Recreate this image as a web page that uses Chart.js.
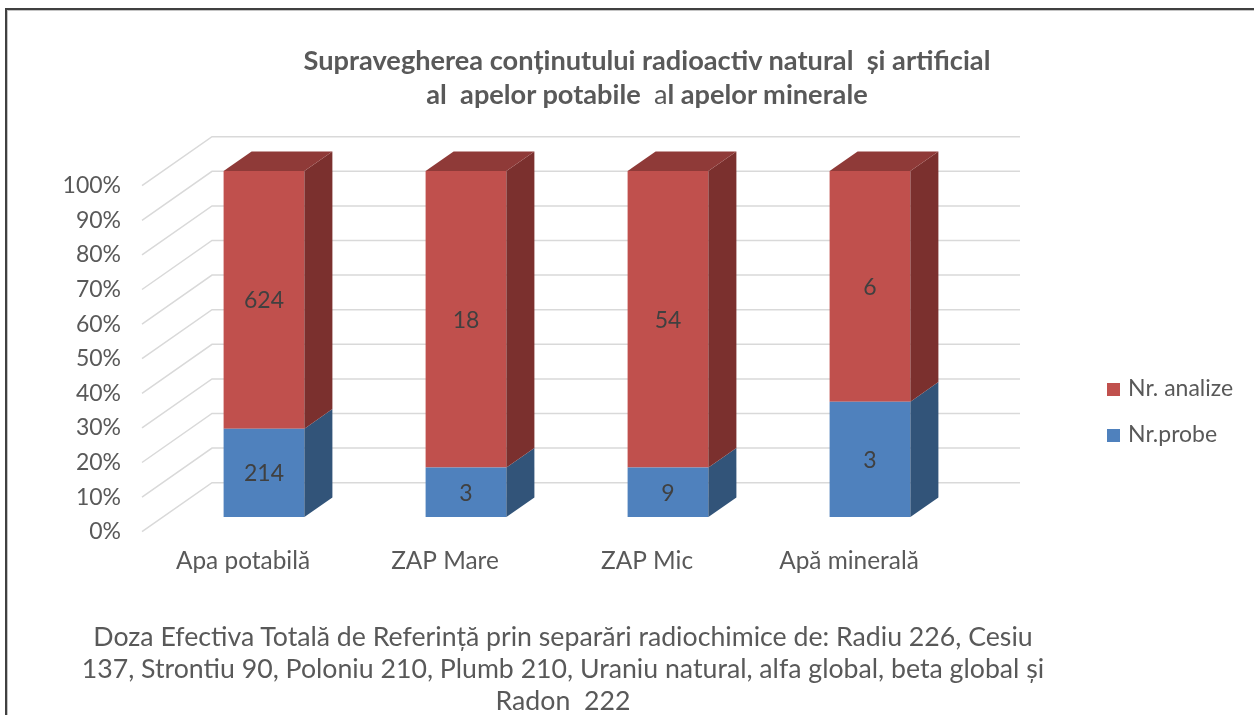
<!DOCTYPE html>
<html>
<head>
<meta charset="utf-8">
<script src="https://cdn.jsdelivr.net/npm/chart.js@4.4.1/dist/chart.umd.min.js"></script>
<style>
	html, body { margin: 0; padding: 0; background: #fff; }
	#wrap { position: relative; width: 1254px; height: 715px; overflow: hidden; font-family: Lato, "Open Sans", sans-serif; }
	#frame { position: absolute; left: 5px; top: 8px; width: 1400px; height: 900px; border-left: 2px solid #404040; border-top: 2px solid #404040; box-shadow: inset 1px 1px 0 #c4c4c4; }
	#chart { position: absolute; left: 0; top: 0; }
	#title { position: absolute; left: 0; top: 43px; width: 1294px; text-align: center; font-weight: bold; font-size: 27.2px; line-height: 34px; color: #595959; white-space: pre; }
	#title .thin { font-weight: normal; }
	#note { position: absolute; left: 0; top: 620px; width: 1126px; text-align: center; font-size: 26.7px; line-height: 32px; color: #595959; white-space: nowrap; }
	#legend { position: absolute; left: 1107px; top: 372px; font-size: 23px; color: #595959; }
	#legend div { height: 46px; line-height: 30px; white-space: nowrap; }
	#legend span { display: inline-block; width: 13px; height: 13px; margin-right: 8px; vertical-align: 0px; }
</style>
</head>
<body>
<div id="wrap">
	<canvas id="chart" width="1254" height="715"></canvas>
	<div id="frame"></div>
	<div id="title">Supravegherea conținutului radioactiv natural  și artificial
al  apelor potabile  <span class="thin">a</span>l apelor minerale</div>
	<div id="legend"></div>
	<div id="note">Doza Efectiva Totală de Referință prin separări radiochimice de: Radiu 226, Cesiu<br>137, Strontiu 90, Poloniu 210, Plumb 210, Uraniu natural, alfa global, beta global și<br>Radon&nbsp; 222</div>
</div>
<script>
// data
const categories = ['Apa potabilă', 'ZAP Mare', 'ZAP Mic', 'Apă minerală'];
const nrProbe = [214, 3, 9, 3];
const nrAnalize = [624, 18, 54, 6];
const yTicks = [0, 10, 20, 30, 40, 50, 60, 70, 80, 90, 100];

const seriesNames = ['Nr.probe', 'Nr. analize'];
const frontColors = ['#4F81BD', '#C0504D'];
const sideColors = ['#325479', '#7B302E'];
const topColors = ['#3C6596', '#8F3A38'];

// fake 3d: full depth of the floor and where the bars sit in it
const DEPTH_X = 70, DEPTH_Y = -49;
const BAR_FRONT = 0.3, BAR_DEPTH = 0.4;

const totals = nrProbe.map((p, i) => p + nrAnalize[i]);
const pct = arr => arr.map((v, i) => v / totals[i] * 100);
const rawValues = [nrProbe, nrAnalize];

const legendBox = document.getElementById('legend');
[1, 0].forEach(i => {
	legendBox.insertAdjacentHTML('beforeend', `<div><span style="background:${frontColors[i]}"></span>${seriesNames[i]}</div>`);
});

const depthPlugin = {
	id: 'depth3d',
	beforeDatasetsDraw(chart) {
		const { ctx, chartArea: a, scales: { y } } = chart;
		const fx = -DEPTH_X * BAR_FRONT, fy = -DEPTH_Y * BAR_FRONT;
		const bx = DEPTH_X * (1 - BAR_FRONT), by = DEPTH_Y * (1 - BAR_FRONT);
		ctx.save();
		ctx.strokeStyle = '#D9D9D9';
		ctx.lineWidth = 1.5;
		ctx.beginPath();
		yTicks.forEach(v => {
			const py = y.getPixelForValue(v);
			ctx.moveTo(a.left + fx, py + fy);
			ctx.lineTo(a.left + bx, py + by);
			ctx.lineTo(a.right + bx, py + by);
		});
		ctx.stroke();
		ctx.restore();
	},
	afterDatasetsDraw(chart) {
		const { ctx } = chart;
		const dx = DEPTH_X * BAR_DEPTH, dy = DEPTH_Y * BAR_DEPTH;
		const last = chart.data.datasets.length - 1;
		ctx.save();
		chart.data.datasets.forEach((ds, di) => {
			chart.getDatasetMeta(di).data.forEach((bar, i) => {
				const { x, y, base, width } = bar.getProps(['x', 'y', 'base', 'width'], true);
				const l = x - width / 2, r = x + width / 2;
				ctx.fillStyle = sideColors[di];
				ctx.beginPath();
				ctx.moveTo(r, y);
				ctx.lineTo(r + dx, y + dy);
				ctx.lineTo(r + dx, base + dy);
				ctx.lineTo(r, base);
				ctx.closePath();
				ctx.fill();
				if (di === last) {
					ctx.fillStyle = topColors[di];
					ctx.beginPath();
					ctx.moveTo(l, y);
					ctx.lineTo(l + dx, y + dy);
					ctx.lineTo(r + dx, y + dy);
					ctx.lineTo(r, y);
					ctx.closePath();
					ctx.fill();
				}
				// value labels
				ctx.fillStyle = '#404040';
				ctx.font = '23px Lato, "Open Sans", sans-serif';
				ctx.textAlign = 'center';
				ctx.textBaseline = 'middle';
				ctx.fillText(String(rawValues[di][i]), x, (y + base) / 2 + 1);
			});
		});
		ctx.restore();
	}
};

new Chart(document.getElementById('chart'), {
	type: 'bar',
	data: {
		labels: categories,
		datasets: [
			{ label: seriesNames[0], data: pct(nrProbe), backgroundColor: frontColors[0] },
			{ label: seriesNames[1], data: pct(nrAnalize), backgroundColor: frontColors[1] }
		]
	},
	options: {
		responsive: false,
		animation: false,
		layout: { padding: { left: 63, right: 283, top: 171, bottom: 138 } },
		datasets: { bar: { categoryPercentage: 1, barPercentage: 0.4, borderWidth: 0 } },
		plugins: { legend: { display: false }, tooltip: { enabled: false } },
		scales: {
			x: {
				stacked: true,
				grid: { display: false, drawTicks: false },
				border: { display: false },
				ticks: { color: '#595959', font: { family: 'Lato', size: 24.4 }, padding: 30, labelOffset: -DEPTH_X * BAR_FRONT },
				afterFit(s) { s.height = 60; }
			},
			y: {
				stacked: true,
				min: 0,
				max: 100,
				afterBuildTicks(s) { s.ticks = yTicks.map(v => ({ value: v })); },
				grid: { display: false, drawTicks: false },
				border: { display: false },
				ticks: { color: '#595959', font: { family: 'Lato', size: 23 }, padding: 42, labelOffset: -DEPTH_Y * BAR_FRONT, callback: v => v + '%' },
				afterFit(s) { s.width = 100; }
			}
		}
	},
	plugins: [depthPlugin]
});
</script>
</body>
</html>
